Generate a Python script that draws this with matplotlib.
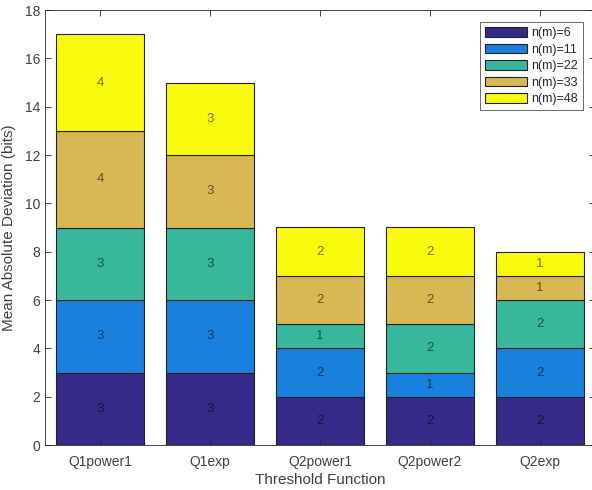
import matplotlib
matplotlib.use("Agg")
import matplotlib.pyplot as plt
import numpy as np

categories = ["Q1power1", "Q1exp", "Q2power1", "Q2power2", "Q2exp"]
series_names = ["n(m)=6", "n(m)=11", "n(m)=22", "n(m)=33", "n(m)=48"]
s6 = [3, 3, 2, 2, 2]
s11 = [3, 3, 2, 1, 2]
s22 = [3, 3, 1, 2, 2]
s33 = [4, 3, 2, 2, 1]
s48 = [4, 3, 2, 2, 1]
colors = ["#352A87", "#1A80DD", "#37B89C", "#D8B855", "#F9FB0E"]

plt.rcParams['font.family'] = ['Liberation Sans', 'DejaVu Sans']
fig = plt.figure(figsize=(5.92, 4.90), dpi=100)
ax = fig.add_axes([45/592, 1-445/490, 550/592, 435/490])

x = np.arange(1, len(categories) + 1)
bottom = np.zeros(len(categories))
for name, vals, c in zip(series_names, [s6, s11, s22, s33, s48], colors):
    vals = np.array(vals, dtype=float)
    ax.bar(x, vals, 0.8, bottom=bottom, color=c, edgecolor="#222222",
           linewidth=0.8, label=name)
    for xi, b, v in zip(x, bottom, vals):
        ax.text(xi, b + v/2, f"{int(v)}", ha="center", va="center",
                fontsize=9.5, color="black", alpha=0.55)
    bottom += vals

ax.set_xlim(0.5, 5.5)
ax.set_ylim(0, 18)
ax.set_yticks(range(0, 19, 2))
ax.set_xticks(x)
ax.set_xticklabels(categories)
ax.tick_params(direction="in", top=True, right=True, labelsize=10,
               colors="#262626", labelcolor="#404040", length=4, width=0.6)
ax.tick_params(axis="x", pad=7)
for sp in ax.spines.values():
    sp.set_color("#262626")
    sp.set_linewidth(0.6)
ax.set_xlabel("Threshold Function", fontsize=11, color="#404040", labelpad=3)
ax.set_ylabel("Mean Absolute Deviation (bits)", fontsize=11, color="#404040",
              labelpad=6)

leg = ax.legend(loc="upper right", bbox_to_anchor=(0.978, 0.9724), fontsize=9,
                frameon=True, fancybox=False, edgecolor="#262626",
                handlelength=3.4, handleheight=0.8, handletextpad=0.3,
                borderpad=0.4, labelspacing=0.35, borderaxespad=0)
leg.get_frame().set_linewidth(0.6)
for t in leg.get_texts():
    t.set_color("#262626")

fig.savefig("out.png", dpi=100)
